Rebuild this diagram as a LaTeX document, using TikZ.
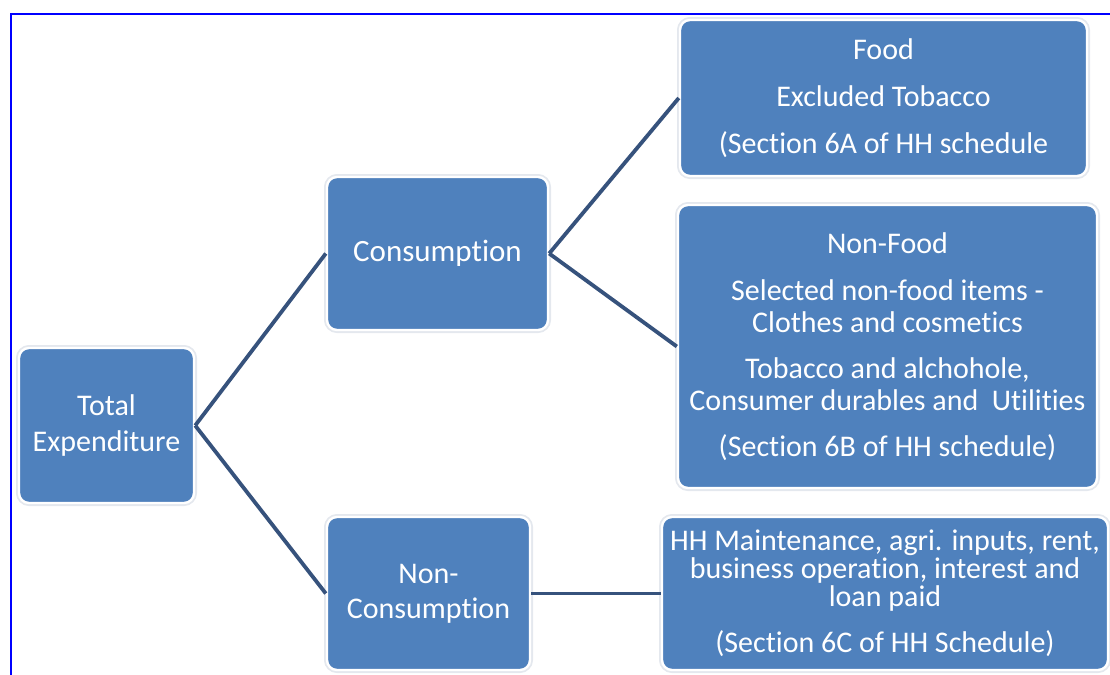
\documentclass[tikz,border=0pt]{standalone}
\usepackage{fontspec}
\setmainfont[Ligatures=NoCommon]{Carlito}
\definecolor{boxblue}{RGB}{79,129,189}
\definecolor{linkblue}{RGB}{54,82,124}
\definecolor{halo}{RGB}{228,232,238}
\begin{document}
\begin{tikzpicture}[x=0.5pt,y=-0.5pt,
  box/.style={rectangle, rounded corners=5pt, fill=boxblue, draw=white, line width=1.2pt,
    preaction={draw=halo, line width=3pt},
    text=white, align=center, inner sep=2pt},
  fnt/.style={font=\fontsize{15}{#1}\selectfont},
  link/.style={draw=linkblue, line width=1.9pt}]
\useasboundingbox (0,0) rectangle (1110,675);
% frame
\draw[blue, line width=0.9pt] (11,675) -- (11,14) -- (1110,14);
% boxes
\node[box, fnt=18pt, minimum width=87.5pt, minimum height=77.5pt] (te) at (106.5,425.5)
  {Total\\Expenditure};
\node[box, font=\fontsize{15.5}{18}\selectfont, minimum width=110.5pt, minimum height=76.5pt] (cons) at (437.5,253.5)
  {Consumption};
\node[box, fnt=17.5pt, minimum width=101.5pt, minimum height=76.5pt] (noncons) at (428.5,593.5)
  {\raisebox{-2pt}{Non-}\\\raisebox{-2pt}{Consumption}};
\node[box, fnt=16pt, minimum width=203.5pt, minimum height=78pt] (food) at (883.5,98)
  {\raisebox{-2pt}{Food}\\[7.5pt]\raisebox{-2pt}{Excluded Tobacco}\\[7.5pt]\raisebox{-2pt}{(Section 6A of HH schedule}};
\node[box, fnt=16pt, minimum width=209.5pt, minimum height=141.5pt] (nonfood) at (887.5,346.5)
  {Non-Food\\[7.5pt]Selected non-food items -\\Clothes and cosmetics\\[7pt]Tobacco and alchohole,\\Consumer durables and\ \ Utilities\\[7pt](Section 6B of HH schedule)};
\node[box, fnt=14pt, minimum width=223pt, minimum height=76.5pt] (hh) at (885,593.5)
  {\raisebox{-2pt}{HH Maintenance, agri. inputs, rent,}\\\raisebox{-2pt}{business operation, interest and}\\\raisebox{-2pt}{loan paid}\\[9pt]\raisebox{-2pt}{(Section 6C of HH Schedule)}};
% connectors
\draw[link] (te.east) -- (cons.west);
\draw[link] (te.east) -- (noncons.west);
\draw[link] (cons.east) -- (food.west);
\draw[link] (cons.east) -- (nonfood.west);
\draw[link] (noncons.east) -- (hh.west);
\end{tikzpicture}
\end{document}
